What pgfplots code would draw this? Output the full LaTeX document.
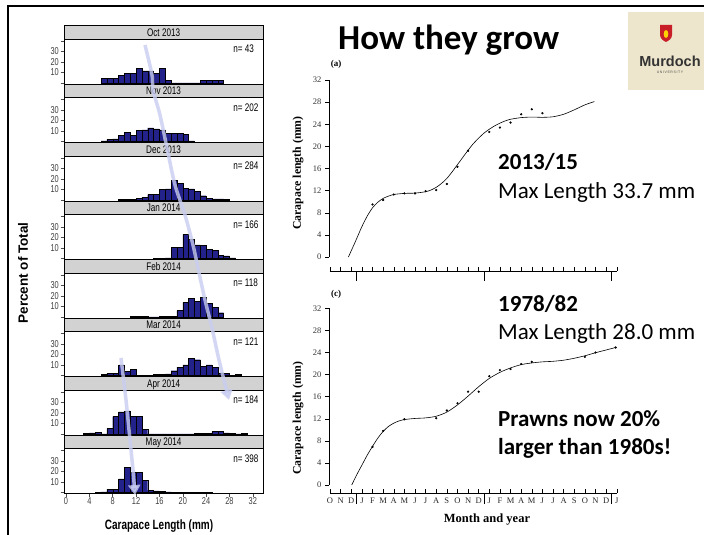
\documentclass[border=0pt]{standalone}
\usepackage{fontspec}
\usepackage{pgfplots}
\pgfplotsset{compat=1.18}
\usetikzlibrary{arrows.meta}
\setmainfont{Liberation Serif}
\newfontfamily\calibri{Carlito}
\newfontfamily\arial{Liberation Sans}
\newfontfamily\narrow[FakeStretch=0.74]{Liberation Sans}
\definecolor{navyc}{RGB}{34,34,138}
\definecolor{stripc}{RGB}{210,210,210}
\definecolor{arrowc}{RGB}{200,205,242}
\definecolor{logoc}{RGB}{238,230,204}
\definecolor{crest}{RGB}{200,30,40}
\tikzset{nlab/.style={anchor=west, inner sep=0pt, font=\narrow\fontsize{11}{11}\selectfont}}
\pgfplotsset{
  hist/.style={anchor=south west, scale only axis, width=199.3pt, height=45.2pt,
    xmin=-0.35, xmax=33.8, ymin=-1.2, ymax=41.9,
    axis line style={line width=0.6pt},
    ytick={0,10,20,30,40}, yticklabels={,10,20,30,},
    ytick pos=left, xtick pos=bottom, tick align=outside, major tick length=3.5pt,
    xtick=\empty,
    tick style={line width=0.5pt, black!70},
    yticklabel style={font=\narrow\fontsize{10}{10}\selectfont, text=black!75, inner sep=1.5pt},
  },
  hbar/.style={ybar interval, fill=navyc, draw=black, line width=0.4pt},
  growth/.style={anchor=south west, scale only axis, width=287.7pt,
    xmin=-0.1, xmax=27, ymax=32, clip=false,
    axis line style={draw=none},
    ytick={0,4,...,32}, ytick pos=left, xtick pos=bottom, tick align=outside, major tick length=4pt,
    tick style={line width=0.4pt, black},
    yticklabel style={font=\fontsize{8.5}{8.5}\selectfont, text=black!80},
    /pgf/number format/assume math mode=true,
    xtick style={draw=none},
  },
}
\begin{document}
\begin{tikzpicture}[x=1pt,y=1pt]
\fill[white] (0,0) rectangle (704,535);
\useasboundingbox (0,0) rectangle (704,535);

% ---------------- histograms ----------------
\begin{axis}[hist, at={(64pt,450.8pt)}]
\addplot[hbar] coordinates {(6,4.7)(7,4.7)(8,4.7)(9,7.0)(10,9.3)(11,9.3)(12,14.0)(13,11.6)(14,11.6)(15,9.3)(16,14.0)(17,2.3)(18,0)(19,0)(20,0)(21,0)(22,0)(23,2.3)(24,2.3)(25,2.3)(26,2.3)(27,0)};
\node[nlab] at (rel axis cs:0.849,0.78) {n= 43};
\end{axis}
\begin{axis}[hist, at={(64pt,392.3pt)}]
\addplot[hbar] coordinates {(6,0.5)(7,2.0)(8,2.5)(9,6.0)(10,8.5)(11,6.0)(12,10.5)(13,11.0)(14,13.0)(15,12.0)(16,11.0)(17,8.0)(18,7.5)(19,7.5)(20,7.0)(21,0.5)(22,0)};
\node[nlab] at (rel axis cs:0.849,0.78) {n= 202};
\end{axis}
\begin{axis}[hist, at={(64pt,333.8pt)}]
\addplot[hbar] coordinates {(9,0.3)(10,0.5)(11,0.5)(12,1.5)(13,2.5)(14,5)(15,5.5)(16,10)(17,10.5)(18,19)(19,16)(20,11)(21,10.5)(22,8)(23,4)(24,1.5)(25,1)(26,1)(27,0.7)(28,0)};
\node[nlab] at (rel axis cs:0.849,0.78) {n= 284};
\end{axis}
\begin{axis}[hist, at={(64pt,275.3pt)}]
\addplot[hbar] coordinates {(15,0.3)(16,0.3)(17,0.5)(18,10.5)(19,10.5)(20,23)(21,18)(22,13)(23,12.5)(24,8.5)(25,7.5)(26,3)(27,2.5)(28,0.5)(29,0)};
\node[nlab] at (rel axis cs:0.849,0.78) {n= 166};
\end{axis}
\begin{axis}[hist, at={(64pt,216.8pt)}]
\addplot[hbar] coordinates {(11,0.8)(12,0.8)(13,0.8)(14,0)(15,0)(16,0.8)(17,0.8)(18,0.8)(19,6)(20,14)(21,18)(22,15)(23,19)(24,13)(25,9)(26,4)(27,0)};
\node[nlab] at (rel axis cs:0.849,0.78) {n= 118};
\end{axis}
\begin{axis}[hist, at={(64pt,158.3pt)}]
\addplot[hbar] coordinates {(6,0.8)(7,2)(8,2)(9,10)(10,4)(11,5.5)(12,0)(13,0)(14,0)(15,0.8)(16,0.8)(17,1.5)(18,4.5)(19,8)(20,10)(21,16)(22,15)(23,8.5)(24,10)(25,8)(26,2.5)(27,2)(28,0)(29,0.8)(30,0)};
\node[nlab] at (rel axis cs:0.849,0.78) {n= 121};
\end{axis}
\begin{axis}[hist, at={(64pt,99.8pt)}]
\addplot[hbar] coordinates {(3,0.5)(4,1.1)(5,1.6)(6,0)(7,5)(8,16.5)(9,21)(10,22)(11,17)(12,17)(13,4.5)(14,0)(15,0)(16,0)(17,0)(18,0)(19,0)(20,0)(21,0)(22,0.5)(23,0.5)(24,0.5)(25,2.2)(26,2.2)(27,1)(28,0.5)(29,0)(30,0.5)(31,0)};
\node[nlab] at (rel axis cs:0.849,0.78) {n= 184};
\end{axis}
\begin{axis}[hist, at={(64pt,41.3pt)}, xtick={0,4,...,32}, xticklabels={0,4,8,12,16,20,24,28,32},
  xticklabel style={font=\narrow\fontsize{10}{10}\selectfont, text=black!75, inner sep=0.5pt}]
\addplot[hbar] coordinates {(5,0.3)(6,0.5)(7,3)(8,3)(9,13)(10,24)(11,19)(12,19)(13,11.5)(14,2)(15,1.5)(16,1)(17,0.5)(18,0.3)(19,0.2)(20,0)(21,0)(22,0)(23,0)(24,0.2)(25,0)};
\node[nlab] at (rel axis cs:0.849,0.78) {n= 398};
\end{axis}

\foreach \k/\lab in {0/Oct 2013,1/Nov 2013,2/Dec 2013,3/Jan 2014,4/Feb 2014,5/Mar 2014,6/Apr 2014,7/May 2014}{
  \draw[fill=stripc, line width=0.6pt] (64,{496-58.5*\k}) rectangle (263.3,{509.3-58.5*\k});
  \node[anchor=base, font=\narrow\fontsize{11}{11}\selectfont, inner sep=0] at (163.6,{498.7-58.5*\k}) {\lab};
}

% annotation arrows
\draw[arrowc, line width=3.5pt, opacity=0.8, -{Triangle[length=10pt,width=12pt]}] plot[smooth] coordinates {(145,490) (152,460) (153,445) (160,420) (167,387) (175,350) (185,320) (193,290) (198,267) (205,235) (212,207) (219,175) (229,135)};
\draw[arrowc, line width=3.5pt, opacity=0.8, -{Triangle[length=10pt,width=12pt]}] plot[smooth] coordinates {(121,177) (126,135) (130,95) (133,65) (135,40)};

\node[rotate=90, font=\arial\bfseries\fontsize{13.5}{13.5}\selectfont] at (23,262) {Percent of Total};
\node[anchor=base, inner sep=0, font=\narrow\bfseries\fontsize{13.5}{13.5}\selectfont] at (159,5) {Carapace Length (mm)};

% ---------------- growth curves ----------------
\begin{axis}[growth, at={(329pt,264pt)}, height=191pt, ymin=-2.53, xtick=\empty]
\draw[line width=0.5pt] (axis cs:-0.1,0) -- (axis cs:-0.1,32);
\draw[line width=0.5pt] (axis cs:0,-2.53) -- (axis cs:27,-2.53);
\pgfplotsinvokeforeach{0,1,...,27}{\draw[line width=0.4pt] (axis cs:#1,-2.53) -- ++(0pt,3.5pt);}
\pgfplotsinvokeforeach{2.5,14.5,26.5}{\draw[line width=0.4pt] (axis cs:#1,-2.53) -- ++(0pt,-10pt);}
\addplot[black, line width=0.6pt, smooth, tension=0.45] coordinates {(1.73,0) (2.2,2.0) (2.5,3.3) (3,5.5) (3.5,7.4) (4,8.9) (4.5,9.9) (5,10.6) (5.5,11.0) (6,11.3) (7,11.5) (8,11.55) (9,11.8) (9.5,12.1) (10,12.6) (10.5,13.3) (11,14.2) (11.5,15.4) (12,16.7) (12.5,18.0) (13,19.3) (13.5,20.5) (14,21.5) (14.5,22.4) (15,23.1) (15.5,23.7) (16,24.2) (16.5,24.6) (17,24.9) (18,25.2) (19,25.3) (20,25.25) (21,25.35) (22,25.8) (23,26.6) (24,27.5) (24.9,28.1)};
\addplot[only marks, mark=*, mark size=0.9pt, black] coordinates {(4,9.5) (5,10.3) (6,11.3) (7,11.5) (8,11.5) (9,11.9) (10,12.1) (11,13.2) (12,16.3) (13,19.2) (15,22.6) (16,23.4) (17,24.3) (18,25.8) (19,26.7) (20,26.0)};
\end{axis}
\node[font=\bfseries\fontsize{9}{9}\selectfont] at (336,471) {(a)};
\node[rotate=90, font=\bfseries\fontsize{11.8}{11.8}\selectfont] at (298,362) {Carapace length (mm)};

\begin{axis}[growth, at={(329pt,42pt)}, height=184.7pt, ymin=-1.45, xtick={0,1,...,27},
  xticklabels={O,N,D,J,F,M,A,M,J,J,A,S,O,N,D,J,F,M,A,M,J,J,A,S,O,N,D,J},
  xticklabel style={font=\fontsize{8.5}{8.5}\selectfont, text=black!85, inner sep=1pt}]
\draw[line width=0.5pt] (axis cs:-0.1,0) -- (axis cs:-0.1,32);
\draw[line width=0.5pt] (axis cs:0,-1.45) -- (axis cs:27,-1.45);
\pgfplotsinvokeforeach{0,1,...,27}{\draw[line width=0.4pt] (axis cs:#1,-1.45) -- ++(0pt,3.5pt);}
\pgfplotsinvokeforeach{2.5,14.5,26.5}{\draw[line width=0.4pt] (axis cs:#1,-1.45) -- ++(0pt,-11pt);}
\addplot[black, line width=0.6pt, smooth, tension=0.45] coordinates {(2.04,0) (2.5,1.8) (3,3.6) (3.5,5.4) (4,7.0) (4.5,8.5) (5,9.7) (5.5,10.6) (6,11.2) (6.5,11.6) (7,11.85) (8,12.05) (9,12.15) (10,12.45) (11,13.2) (12,14.5) (13,16.1) (14,17.8) (15,19.3) (16,20.4) (17,21.2) (18,21.8) (19,22.1) (20,22.3) (21,22.4) (22,22.6) (23,22.95) (24,23.4) (25,23.95) (26,24.45) (26.9,24.9)};
\addplot[only marks, mark=*, mark size=0.9pt, black] coordinates {(4,6.9) (5,9.8) (7,11.9) (10,12.1) (11,13.5) (12,14.8) (13,16.9) (14,16.9) (15,19.7) (16,20.8) (17,21.0) (18,21.9) (19,22.3) (24,23.2) (25,24.0) (26.9,24.9)};
\end{axis}
\node[font=\bfseries\fontsize{9}{9}\selectfont] at (336,241) {(c)};
\node[rotate=90, font=\bfseries\fontsize{11.8}{11.8}\selectfont] at (298,117) {Carapace length (mm)};
\node[font=\bfseries\fontsize{12.5}{12.5}\selectfont] at (487,15) {Month and year};

% ---------------- slide text ----------------
\node[anchor=base west, inner sep=0, font=\calibri\bfseries\fontsize{35}{35}\selectfont] at (338,485) {How they grow};
\node[anchor=base west, inner sep=0, font=\calibri\bfseries\fontsize{23}{23}\selectfont] at (498,365) {2013/15};
\node[anchor=base west, inner sep=0, font=\calibri\fontsize{23}{23}\selectfont] at (498,336) {Max Length 33.7 mm};
\node[anchor=base west, inner sep=0, font=\calibri\bfseries\fontsize{23}{23}\selectfont] at (498,223) {1978/82};
\node[anchor=base west, inner sep=0, font=\calibri\fontsize{23}{23}\selectfont] at (498,195.5) {Max Length 28.0 mm};
\node[anchor=base west, inner sep=0, font=\calibri\bfseries\fontsize{23}{23}\selectfont] at (498,108.3) {Prawns now 20\%};
\node[anchor=base west, inner sep=0, font=\calibri\bfseries\fontsize{23}{23}\selectfont] at (498,80) {larger than 1980s!};

% logo
\fill[logoc] (628,445) rectangle (704,523.3);
\fill[crest] (660,510) -- (672,510) -- (672,500) .. controls (672,496) and (668,494) .. (666,493) .. controls (664,494) and (660,496) .. (660,500) -- cycle;
\fill[yellow!70!orange] (666,501) ellipse (2.3 and 4);
\node[anchor=base, inner sep=0, font=\arial\bfseries\fontsize{14.5}{14.5}\selectfont, text=black!80] at (670,468.3) {Murdoch};
\node[inner sep=0, font=\arial\fontsize{3.5}{3.5}\selectfont, text=black!70] at (670,463) {U\,N\,I\,V\,E\,R\,S\,I\,T\,Y};

% slide border
\draw[line width=2pt] (8,0) -- (8,529) -- (704,529);
\end{tikzpicture}
\end{document}
